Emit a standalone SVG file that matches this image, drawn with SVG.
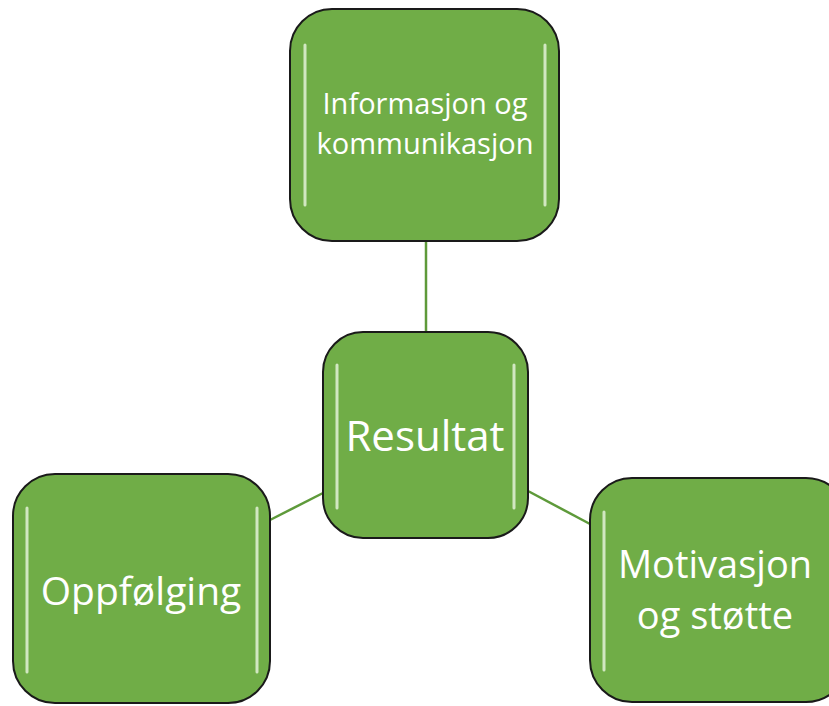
<svg xmlns="http://www.w3.org/2000/svg" width="829" height="706" viewBox="0 0 829 706">
<style>
.box{fill:#70AD47;stroke:#1a1a1a;stroke-width:2}
.hl{fill:none;stroke:#f2fbe9;stroke-opacity:0.75;stroke-width:3;stroke-linecap:round}
.t{fill:#fff;font-family:"Open Sans","Noto Sans","Liberation Sans",sans-serif;text-anchor:middle}
.c{stroke:#5E9A3A;stroke-width:2.5;fill:none}
</style>
<rect width="829" height="706" fill="#fff"/>
<g id="connectors">
<line class="c" x1="426" y1="241" x2="426" y2="332"/>
<line class="c" x1="323" y1="493" x2="270" y2="520"/>
<line class="c" x1="528" y1="491" x2="590" y2="524"/>
</g>
<g id="node-top">
<rect class="box" x="290" y="9" width="269" height="232" rx="42"/>
<path class="hl" d="M305 45 L305 205"/>
<path class="hl" d="M545 45 L545 205"/>
<text class="t" font-size="29"><tspan x="425" y="114">Informasjon og</tspan><tspan x="425" y="154">kommunikasjon</tspan></text>
</g>
<g id="node-center">
<rect class="box" x="323" y="332" width="205" height="206" rx="40"/>
<path class="hl" d="M337 365 L337 508"/>
<path class="hl" d="M514 365 L514 508"/>
<text class="t" font-size="42" x="425" y="451">Resultat</text>
</g>
<g id="node-left">
<rect class="box" x="13" y="474" width="257" height="229" rx="42"/>
<path class="hl" d="M27 508 L27 672"/>
<path class="hl" d="M257 508 L257 672"/>
<text class="t" font-size="39" x="141" y="605">Oppfølging</text>
</g>
<g id="node-right">
<rect class="box" x="590" y="478" width="258" height="224" rx="42"/>
<path class="hl" d="M604 512 L604 670"/>
<text class="t" font-size="38"><tspan x="715" y="578">Motivasjon</tspan><tspan x="715" y="629">og støtte</tspan></text>
</g>
</svg>
